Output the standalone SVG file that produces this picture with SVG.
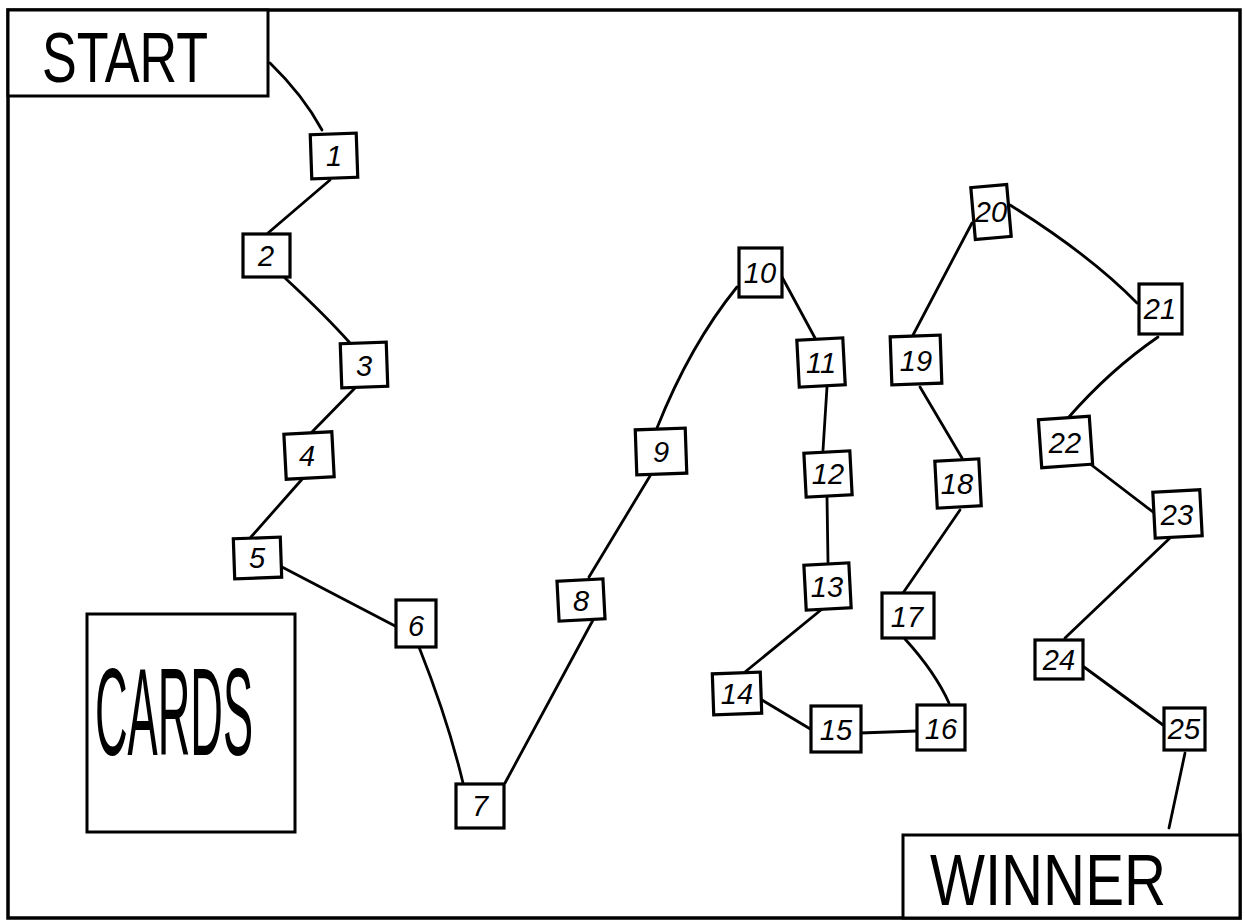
<svg xmlns="http://www.w3.org/2000/svg" width="1245" height="923" viewBox="0 0 1245 923">
<style>
.bg{fill:#fff}
.frame{fill:none;stroke:#000;stroke-width:3.5}
.box{fill:#fff;stroke:#000;stroke-width:3.2;stroke-linejoin:miter}
.big{fill:#fff;stroke:#000;stroke-width:3}
.num{font-family:"Liberation Sans",Arial,sans-serif;font-style:italic;font-size:29px;text-anchor:middle;fill:#000}
.word{font-family:"Liberation Sans",Arial,sans-serif;fill:#000}
#connectors path{fill:none;stroke:#000;stroke-width:2.8;stroke-linecap:round}
</style>
<rect class="bg" x="0" y="0" width="1245" height="923"/>
<rect class="frame" x="8" y="10" width="1232" height="908"/>
<g id="connectors">
<path d="M270,63 Q303,95 322,130"/>
<path d="M330,180 L268,233"/>
<path d="M285,278 Q325,315 350,343"/>
<path d="M355,388 L312,432"/>
<path d="M304,477 L251,537"/>
<path d="M282,567 L397,627"/>
<path d="M419,647 Q448,720 463,783"/>
<path d="M505,783 L593,620"/>
<path d="M589,577 L650,476"/>
<path d="M657,428 Q690,345 737,287"/>
<path d="M782,277 L815,338"/>
<path d="M827,387 L823,450"/>
<path d="M827,497 L828,562"/>
<path d="M827,605 L745,672"/>
<path d="M762,700 L812,730"/>
<path d="M860,733 L917,731"/>
<path d="M949,703 Q935,672 905,639"/>
<path d="M903,593 L960,510"/>
<path d="M962,458 L920,387"/>
<path d="M912,337 L972,223"/>
<path d="M1010,205 Q1090,255 1137,303"/>
<path d="M1158,337 Q1110,370 1068,418"/>
<path d="M1085,460 L1153,512"/>
<path d="M1170,538 L1065,638"/>
<path d="M1084,667 L1163,725"/>
<path d="M1185,753 L1169,828"/>
</g>
<g id="start"><rect class="big" x="8" y="10" width="260" height="86"/><text class="word" x="42" y="82" font-size="70" textLength="166" lengthAdjust="spacingAndGlyphs">START</text></g>
<g id="cards"><rect class="big" x="87" y="614" width="208" height="218"/><text class="word" x="95" y="755" font-size="124" textLength="158" lengthAdjust="spacingAndGlyphs">CARDS</text></g>
<g id="winner"><rect class="big" x="903" y="835" width="337" height="83"/><text class="word" x="930" y="905" font-size="72" textLength="236" lengthAdjust="spacingAndGlyphs">WINNER</text></g>
<g id="n1"><rect class="box" x="311" y="134" width="46" height="44" transform="rotate(-2 334 156)"/><text class="num" x="334" y="166">1</text></g>
<g id="n2"><rect class="box" x="243" y="234" width="47" height="43"/><text class="num" x="266" y="266">2</text></g>
<g id="n3"><rect class="box" x="341" y="343" width="46" height="44" transform="rotate(-2 364 365)"/><text class="num" x="364" y="376">3</text></g>
<g id="n4"><rect class="box" x="285" y="433" width="48" height="45" transform="rotate(-3 309 455)"/><text class="num" x="307" y="466">4</text></g>
<g id="n5"><rect class="box" x="234" y="538" width="47" height="40" transform="rotate(-2 257 558)"/><text class="num" x="257" y="568">5</text></g>
<g id="n6"><rect class="box" x="396" y="600" width="40" height="47"/><text class="num" x="416" y="636">6</text></g>
<g id="n7"><rect class="box" x="456" y="784" width="48" height="44"/><text class="num" x="480" y="816">7</text></g>
<g id="n8"><rect class="box" x="558" y="580" width="46" height="40" transform="rotate(-3 581 600)"/><text class="num" x="581" y="611">8</text></g>
<g id="n9"><rect class="box" x="636" y="429" width="50" height="45" transform="rotate(-2 661 451)"/><text class="num" x="661" y="462">9</text></g>
<g id="n10"><rect class="box" x="739" y="248" width="43" height="49"/><text class="num" x="760" y="283">10</text></g>
<g id="n11"><rect class="box" x="798" y="339" width="46" height="47" transform="rotate(-3 821 362)"/><text class="num" x="821" y="373">11</text></g>
<g id="n12"><rect class="box" x="805" y="452" width="46" height="44" transform="rotate(-3 828 474)"/><text class="num" x="828" y="484">12</text></g>
<g id="n13"><rect class="box" x="805" y="564" width="45" height="45" transform="rotate(-3 827 586)"/><text class="num" x="827" y="597">13</text></g>
<g id="n14"><rect class="box" x="713" y="673" width="48" height="41" transform="rotate(-2 737 693)"/><text class="num" x="737" y="704">14</text></g>
<g id="n15"><rect class="box" x="811" y="706" width="50" height="46"/><text class="num" x="836" y="740">15</text></g>
<g id="n16"><rect class="box" x="917" y="705" width="48" height="45"/><text class="num" x="941" y="739">16</text></g>
<g id="n17"><rect class="box" x="882" y="593" width="52" height="45"/><text class="num" x="907" y="627">17</text></g>
<g id="n18"><rect class="box" x="936" y="460" width="44" height="47" transform="rotate(-3 958 483)"/><text class="num" x="957" y="494">18</text></g>
<g id="n19"><rect class="box" x="891" y="336" width="50" height="48" transform="rotate(-2 916 360)"/><text class="num" x="916" y="371">19</text></g>
<g id="n20"><rect class="box" x="973" y="186" width="36" height="52" transform="rotate(-5 991 212)"/><text class="num" x="991" y="222">20</text></g>
<g id="n21"><rect class="box" x="1139" y="284" width="43" height="50"/><text class="num" x="1160" y="319">21</text></g>
<g id="n22"><rect class="box" x="1040" y="418" width="51" height="48" transform="rotate(-4 1065 442)"/><text class="num" x="1065" y="453">22</text></g>
<g id="n23"><rect class="box" x="1154" y="491" width="47" height="46" transform="rotate(-3 1177 514)"/><text class="num" x="1177" y="525">23</text></g>
<g id="n24"><rect class="box" x="1035" y="640" width="48" height="39"/><text class="num" x="1059" y="670">24</text></g>
<g id="n25"><rect class="box" x="1164" y="708" width="41" height="42"/><text class="num" x="1184" y="739">25</text></g>
</svg>
